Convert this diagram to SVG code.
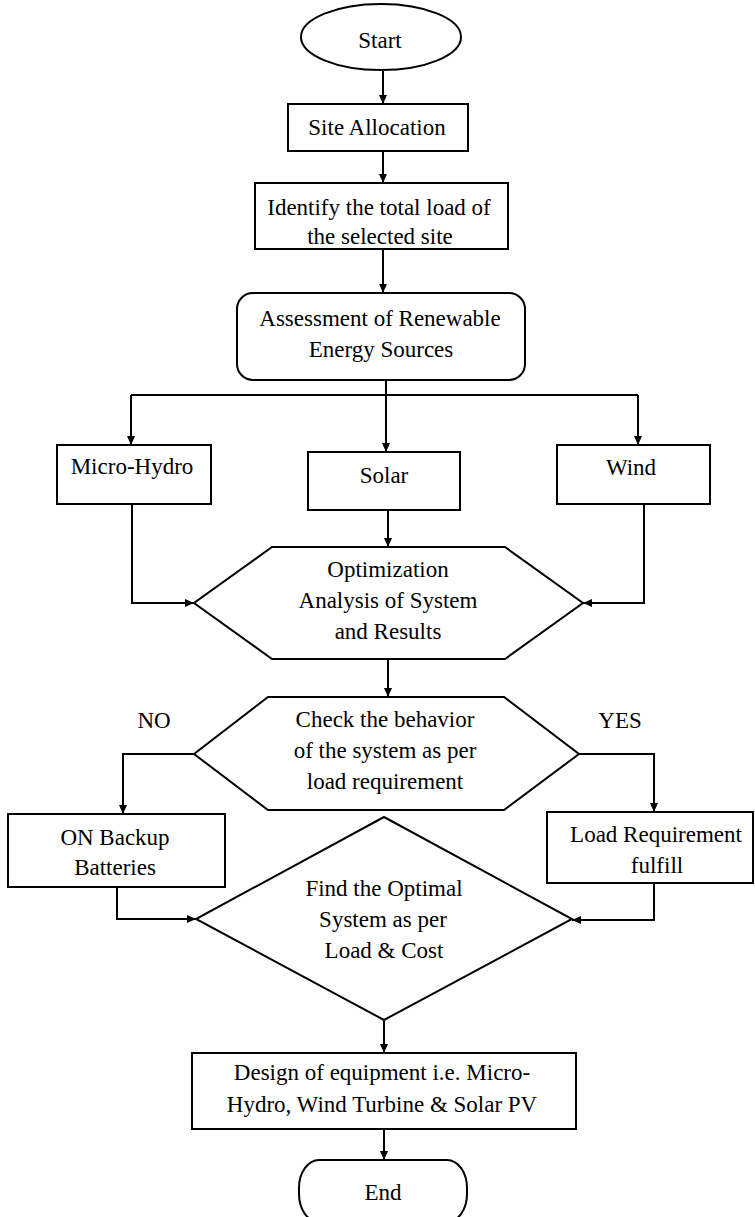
<svg xmlns="http://www.w3.org/2000/svg" width="755" height="1217" viewBox="0 0 755 1217">
<defs>
<marker id="arr" markerWidth="10" markerHeight="10" refX="9" refY="5" orient="auto" markerUnits="userSpaceOnUse">
<path d="M0,1 L9,5 L0,9 Z" fill="#000"/>
</marker>
<style>
.s{fill:#fff;stroke:#000;stroke-width:2}
.t{font-family:"Liberation Serif","Times New Roman",serif;font-size:23px;fill:#000;text-anchor:middle}
.c{fill:none;stroke:#000;stroke-width:2;marker-end:url(#arr)}
</style>
</defs>
<rect width="755" height="1217" fill="#fff"/>
<g id="connectors">
<path class="c" d="M383,70 V104"/>
<path class="c" d="M383,151 V183"/>
<path class="c" d="M383,249 V293"/>
<path class="c" d="M386,380 V452"/>
<path fill="none" stroke="#000" stroke-width="2" d="M131,395 H638"/>
<path class="c" d="M131,395 V445"/>
<path class="c" d="M638,395 V445"/>
<path class="c" d="M132,504 V603 H194"/>
<path class="c" d="M388,510 V547"/>
<path class="c" d="M644,504 V603 H583"/>
<path class="c" d="M388,659 V697"/>
<path class="c" d="M194,754 H123 V814"/>
<path class="c" d="M579,754 H654 V812"/>
<path class="c" d="M117,887 V919 H196"/>
<path class="c" d="M654,883 V920 H572"/>
<path class="c" d="M384,1020 V1053"/>
<path class="c" d="M384,1129 V1160"/>
</g>
<g id="start">
<ellipse class="s" cx="381" cy="37" rx="80" ry="33"/>
<text class="t" x="380" y="48">Start</text>
</g>
<g id="site">
<rect class="s" x="288" y="104" width="180" height="47"/>
<text class="t" x="377" y="135">Site Allocation</text>
</g>
<g id="identify">
<rect class="s" x="255" y="183" width="253" height="66"/>
<text class="t" x="379" y="215">Identify the total load of</text>
<text class="t" x="380" y="244">the selected site</text>
</g>
<g id="assessment">
<rect class="s" x="237" y="293" width="288" height="87" rx="16"/>
<text class="t" x="380" y="326">Assessment of Renewable</text>
<text class="t" x="381" y="357">Energy Sources</text>
</g>
<g id="microhydro">
<rect class="s" x="57" y="445" width="154" height="59"/>
<text class="t" x="132" y="474">Micro-Hydro</text>
</g>
<g id="solar">
<rect class="s" x="308" y="452" width="152" height="58"/>
<text class="t" x="384" y="483">Solar</text>
</g>
<g id="wind">
<rect class="s" x="557" y="445" width="153" height="59"/>
<text class="t" x="631" y="475">Wind</text>
</g>
<g id="optimization">
<polygon class="s" points="272,547 505,547 583,603 505,659 272,659 194,603"/>
<text class="t" x="388" y="577">Optimization</text>
<text class="t" x="388" y="608">Analysis of System</text>
<text class="t" x="388" y="639">and Results</text>
</g>
<g id="check">
<polygon class="s" points="268,697 504,697 579,754 504,810 268,810 194,754"/>
<text class="t" x="385" y="727">Check the behavior</text>
<text class="t" x="385" y="758">of the system as per</text>
<text class="t" x="385" y="789">load requirement</text>
</g>
<g id="labels">
<text class="t" x="154" y="728">NO</text>
<text class="t" x="620" y="728">YES</text>
</g>
<g id="backup">
<rect class="s" x="8" y="814" width="217" height="73"/>
<text class="t" x="115" y="845">ON Backup</text>
<text class="t" x="115" y="875">Batteries</text>
</g>
<g id="fulfill">
<rect class="s" x="547" y="812" width="206" height="71"/>
<text class="t" x="656" y="842">Load Requirement</text>
<text class="t" x="657" y="873">fulfill</text>
</g>
<g id="optimal">
<polygon class="s" points="384,817 572,919 384,1020 196,919"/>
<text class="t" x="384" y="896">Find the Optimal</text>
<text class="t" x="383" y="927">System as per</text>
<text class="t" x="384" y="958">Load &amp; Cost</text>
</g>
<g id="design">
<rect class="s" x="192" y="1053" width="384" height="76"/>
<text class="t" x="382" y="1080">Design of equipment i.e. Micro-</text>
<text class="t" x="382" y="1112">Hydro, Wind Turbine &amp; Solar PV</text>
</g>
<g id="end">
<rect class="s" x="299" y="1160" width="168" height="62" rx="20" ry="28"/>
<text class="t" x="383" y="1200">End</text>
</g>
</svg>
